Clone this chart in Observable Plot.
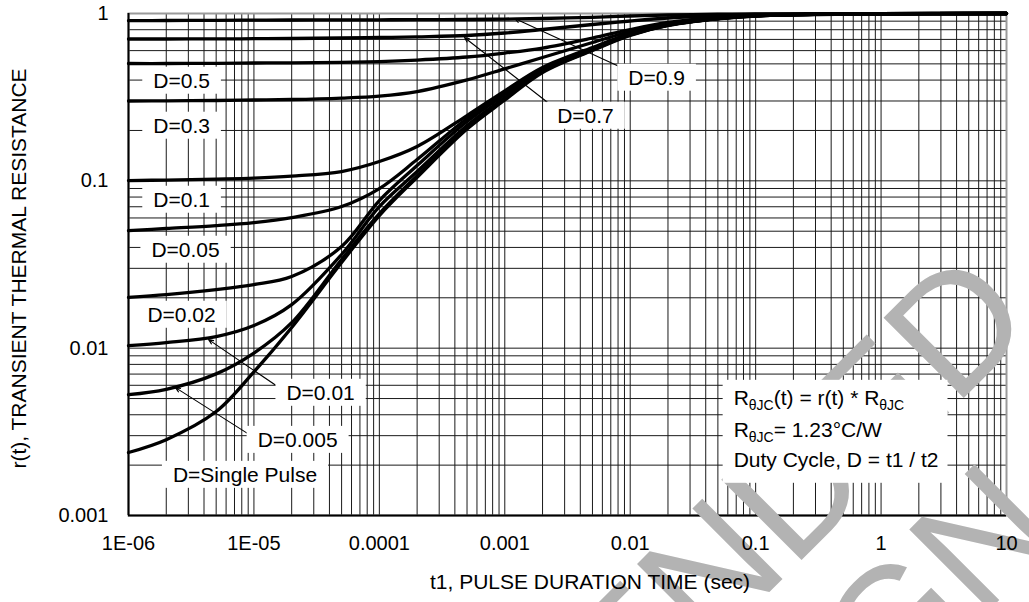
<!DOCTYPE html>
<html><head><meta charset="utf-8">
<script src="https://cdn.jsdelivr.net/npm/d3@7"></script>
<script src="https://cdn.jsdelivr.net/npm/@observablehq/plot@0.6"></script>
<style>html,body{margin:0;padding:0;background:#fff;overflow:hidden;}</style>
</head><body><div id="chart"></div>
<script>
// pulse duration t1 (sec)
const t = [1e-6, 2e-6, 5e-6, 1e-5, 2e-5, 5e-5, 1e-4, 2e-4, 5e-4, 1e-3, 2e-3, 5e-3, 1e-2, 2e-2, 5e-2, 0.1, 1, 10];
// r(t) per duty cycle
const d09 = [0.9057, 0.9082, 0.9106, 0.9132, 0.9145, 0.9157, 0.917, 0.9182, 0.9208, 0.9259, 0.9335, 0.9491, 0.9662, 0.9796, 0.9904, 0.9945, 0.9993, 1];
const d07 = [0.704, 0.704, 0.705, 0.7069, 0.7089, 0.7138, 0.7187, 0.7256, 0.7387, 0.7647, 0.8023, 0.8595, 0.9019, 0.94, 0.9729, 0.9863, 0.9986, 1];
const d05 = [0.5024, 0.5024, 0.5038, 0.5059, 0.5073, 0.5108, 0.5164, 0.5272, 0.5495, 0.5805, 0.6218, 0.7138, 0.8023, 0.8835, 0.9465, 0.9755, 0.9972, 1];
const d03 = [0.2999, 0.3007, 0.302, 0.3041, 0.3062, 0.3124, 0.3211, 0.3418, 0.4015, 0.4671, 0.5458, 0.6708, 0.7806, 0.8714, 0.94, 0.9729, 0.996, 1];
const d01 = [0.1004, 0.1011, 0.1025, 0.1039, 0.1068, 0.1137, 0.1304, 0.1603, 0.2456, 0.3451, 0.4755, 0.6261, 0.7573, 0.8595, 0.9348, 0.9715, 0.996, 1];
const d005 = [0.0504, 0.0519, 0.054, 0.0563, 0.0603, 0.0702, 0.0899, 0.134, 0.2357, 0.3324, 0.4626, 0.6175, 0.751, 0.856, 0.9335, 0.97, 0.996, 1];
const d002 = [0.0201, 0.0209, 0.0224, 0.024, 0.0268, 0.0405, 0.0762, 0.1234, 0.226, 0.328, 0.459, 0.6175, 0.749, 0.854, 0.9335, 0.969, 0.996, 1];
const d001 = [0.01036, 0.0108, 0.01173, 0.01365, 0.0182, 0.0363, 0.0702, 0.1137, 0.214, 0.3145, 0.453, 0.609, 0.746, 0.852, 0.932, 0.969, 0.996, 1];
const d0005 = [0.00528, 0.00568, 0.00702, 0.00935, 0.0142, 0.0339, 0.0637, 0.1075, 0.208, 0.308, 0.45, 0.605, 0.744, 0.85, 0.931, 0.968, 0.996, 1];
const single = [0.00238, 0.00284, 0.00418, 0.00722, 0.0133, 0.0325, 0.062, 0.105, 0.204, 0.304, 0.444, 0.601, 0.739, 0.848, 0.93, 0.966, 0.996, 1];
const seriesNames = ["D=0.9", "D=0.7", "D=0.5", "D=0.3", "D=0.1", "D=0.05", "D=0.02", "D=0.01", "D=0.005", "D=Single Pulse"];
const seriesValues = [d09, d07, d05, d03, d01, d005, d002, d001, d0005, single];

// tick labels
const xTicks = [1e-6, 1e-5, 1e-4, 1e-3, 1e-2, 0.1, 1, 10];
const xTickLabels = ["1E-06", "1E-05", "0.0001", "0.001", "0.01", "0.1", "1", "10"];
const yTicks = [0.001, 0.01, 0.1, 1];
const yTickLabels = ["0.001", "0.01", "0.1", "1"];

// curve labels (anchor in data units)
const labelText = ["D=0.5", "D=0.3", "D=0.1", "D=0.05", "D=0.02", "D=0.01", "D=0.005", "D=Single Pulse", "D=0.9", "D=0.7"];
const labelT = [2.65e-6, 2.65e-6, 2.65e-6, 2.85e-6, 2.65e-6, 3.4e-5, 2.23e-5, 8.49e-6, 0.01623, 4.4e-3];
const labelR = [0.395, 0.2127, 0.0768, 0.0386, 0.01577, 0.00539, 0.00282, 0.001743, 0.4117, 0.244];

// leader arrows (label -> curve)
const arrowT1 = [8.85e-3, 2.36e-3, 1.72e-5, 9.75e-6];
const arrowR1 = [0.469, 0.282, 0.00558, 0.00296];
const arrowT2 = [1.2e-3, 4.77e-4, 4.35e-6, 2.37e-6];
const arrowR2 = [0.933, 0.719, 0.01125, 0.00581];

// note box
const infoLines = ["RθJC(t) = r(t) * RθJC", "RθJC= 1.23°C/W", "Duty Cycle, D = t1 / t2"];
const infoT = 0.0668;
const infoR = [0.00503, 0.00324, 0.002144];

const xTitle = "t1, PULSE DURATION TIME (sec)";
const yTitle = "r(t), TRANSIENT THERMAL RESISTANCE";
const watermark = "NOT RECOMMENDED\nFOR NEW DESIGN";

const rows = seriesNames.flatMap((name, k) => seriesValues[k].map((r, i) => ({D: name, t: t[i], r})));
const labels = labelText.map((text, i) => ({text, t: labelT[i], r: labelR[i]}));
const arrows = arrowT1.map((_, i) => ({t1: arrowT1[i], r1: arrowR1[i], t2: arrowT2[i], r2: arrowR2[i]}));
const info = infoLines.map((text, i) => ({text, t: infoT, r: infoR[i]}));
const xMap = new Map(xTicks.map((v, i) => [v, xTickLabels[i]]));
const yMap = new Map(yTicks.map((v, i) => [v, yTickLabels[i]]));

const xGrid = d3.scaleLog().domain([1e-6, 10]).ticks();
const yGrid = d3.scaleLog().domain([0.001, 1]).ticks();

const font = "'Liberation Sans', Arial, Helvetica, sans-serif";

const chart = Plot.plot({
  width: 1029,
  height: 602,
  marginLeft: 128,
  marginRight: 23,
  marginTop: 13,
  marginBottom: 87,
  x: {type: "log", domain: [1e-6, 10]},
  y: {type: "log", domain: [0.001, 1]},
  style: {fontFamily: font, fontSize: "20px", color: "#000", background: "#fff", overflow: "hidden"},
  marks: [
    Plot.gridX(xGrid, {stroke: "#1a1a1a", strokeOpacity: 1, strokeWidth: 1}),
    Plot.gridY(yGrid, {stroke: "#1a1a1a", strokeOpacity: 1, strokeWidth: 1}),
    Plot.frame({stroke: "#9a9a9a", strokeWidth: 2}),
    Plot.ruleX([1e-6], {stroke: "#000", strokeWidth: 2}),
    Plot.ruleY([0.001], {stroke: "#000", strokeWidth: 2}),
    Plot.text([watermark], {text: d => d, frameAnchor: "top-left", dx: 420.5, dy: 1036.7, rotate: -45,
      textAnchor: "middle", lineAnchor: "bottom", lineHeight: 1.018, fontSize: 165, fill: "#b3b3b3",
      fontFamily: font}),
    Plot.line(rows, {x: "t", y: "r", z: "D", stroke: "#000", strokeWidth: 3.3, curve: "catmull-rom"}),
    Plot.arrow(arrows, {x1: "t1", y1: "r1", x2: "t2", y2: "r2", stroke: "#000", strokeWidth: 1.1, headLength: 7, headAngle: 45}),
    Plot.text(labels, {x: "t", y: "r", text: "text", fontSize: 21, textAnchor: "middle", fill: "#000", ariaDescription: "curve-labels"}),
    Plot.text(info, {x: "t", y: "r", text: "text", fontSize: 21, textAnchor: "start", fill: "#000", ariaDescription: "info"}),
    Plot.axisX(xTicks, {tickFormat: d => xMap.get(d), tickSize: 0, tickPadding: 20, fontSize: 20, label: null, anchor: "bottom"}),
    Plot.axisY(yTicks, {tickFormat: d => yMap.get(d), tickSize: 0, tickPadding: 20, fontSize: 20, label: null, anchor: "left"}),
    Plot.text([xTitle], {text: d => d, frameAnchor: "bottom", dx: 22.5, dy: 73, textAnchor: "middle", lineAnchor: "bottom", fontSize: 21}),
    Plot.text([yTitle], {text: d => d, frameAnchor: "left", dx: -103, dy: 4, rotate: -90, textAnchor: "middle", lineAnchor: "bottom", fontSize: 21})
  ]
});

document.getElementById("chart").append(chart);
const svg = chart.tagName.toLowerCase() === "svg" ? chart : chart.querySelector("svg");
const NS = "http://www.w3.org/2000/svg";

// subscripts in the note box
const infoSet = new Set(infoLines);
const labelSet = new Set(labelText);
const allTexts = Array.from(svg.querySelectorAll("text"));
const infoEls = allTexts.filter(el => infoSet.has(el.textContent));
const labelEls = allTexts.filter(el => labelSet.has(el.textContent));
infoEls.forEach(el => {
  const s = el.textContent;
  el.textContent = "";
  let low = false;
  s.split(/(θJC)/).forEach(p => {
    if (!p) return;
    const ts = document.createElementNS(NS, "tspan");
    if (p === "θJC") { ts.setAttribute("font-size", "14"); ts.setAttribute("dy", "5"); low = true; }
    else if (low) { ts.setAttribute("dy", "-5"); low = false; }
    ts.textContent = p;
    el.appendChild(ts);
  });
});

// white boxes behind labels
const sr = svg.getBoundingClientRect();
function addBox(group, els, padL, padR, padT, padB) {
  let x0 = Infinity, y0 = Infinity, x1 = -Infinity, y1 = -Infinity;
  els.forEach(el => {
    const b = el.getBoundingClientRect();
    x0 = Math.min(x0, b.left); y0 = Math.min(y0, b.top);
    x1 = Math.max(x1, b.right); y1 = Math.max(y1, b.bottom);
  });
  const r = document.createElementNS(NS, "rect");
  r.setAttribute("x", x0 - sr.left - padL);
  r.setAttribute("y", y0 - sr.top - padT);
  r.setAttribute("width", x1 - x0 + padL + padR);
  r.setAttribute("height", y1 - y0 + padT + padB);
  r.setAttribute("fill", "#fff");
  group.appendChild(r);
}
if (labelEls.length) {
  const g = document.createElementNS(NS, "g");
  labelEls.forEach(el => addBox(g, [el], 11, 11, 2, 2));
  const host = labelEls[0].parentNode;
  host.parentNode.insertBefore(g, host);
}
if (infoEls.length) {
  const g = document.createElementNS(NS, "g");
  addBox(g, infoEls, 11, 9, 6, 12);
  const host = infoEls[0].parentNode;
  host.parentNode.insertBefore(g, host);
}
</script>
</body></html>
